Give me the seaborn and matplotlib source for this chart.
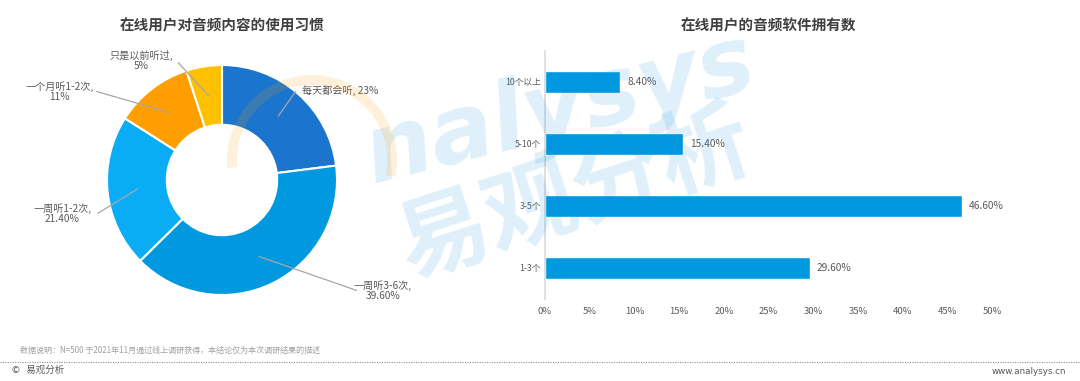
import matplotlib
matplotlib.use("Agg")
import matplotlib.pyplot as plt
from matplotlib.patches import Arc
import seaborn as sns
import pandas as pd
import numpy as np

# ---- data ----
pie_labels = ["每天都会听", "一周听3-6次", "一周听1-2次", "一个月听1-2次", "只是以前听过"]
pie_values = [23.0, 39.6, 21.4, 11.0, 5.0]
pie_value_text = ["23%", "39.60%", "21.40%", "11%", "5%"]
pie_colors = ["#1B75CF", "#0099DF", "#0AADF5", "#FF9E00", "#FFC000"]

bar_categories = ["10个以上", "5-10个", "3-5个", "1-3个"]
bar_values = [8.4, 15.4, 46.6, 29.6]
bar_ticks = [0, 5, 10, 15, 20, 25, 30, 35, 40, 45, 50]

title_left = "在线用户对音频内容的使用习惯"
title_right = "在线用户的音频软件拥有数"
note_text = "数据说明：N=500 于2021年11月通过线上调研获得，本结论仅为本次调研结果的描述"

sns.set_theme(style="white")
plt.rcParams['font.family'] = ['Noto Sans CJK SC', 'DejaVu Sans']

W, H = 1080, 381
fig = plt.figure(figsize=(W / 100, H / 100), dpi=100)
fig.patch.set_facecolor("white")

def fbox(left, top, right, bottom):
    return [left / W, (H - bottom) / H, (right - left) / W, (bottom - top) / H]

text_gray = "#595959"

# ---- donut ----
R = 115.0
axp = fig.add_axes(fbox(12, 30, 432, 330))
axp.pie(pie_values, colors=pie_colors, startangle=90, counterclock=False,
        radius=1.0, wedgeprops=dict(width=0.52, edgecolor="white", linewidth=1.5))
axp.set_xlim(-210 / R, 210 / R)
axp.set_ylim(-150 / R, 150 / R)
axp.set_aspect("auto")
axp.axis("off")

# label placement (text anchor, line end, alignment)
label_pos = [(0.70, 0.78), (1.40, -0.96), (-1.39, -0.29), (-1.41, 0.77), (-0.70, 1.04)]
line_end = [(0.64, 0.77), (1.17, -0.96), (-1.08, -0.29), (-1.09, 0.77), (-0.38, 1.02)]
label_ha = ["left", "center", "center", "center", "center"]
cum = np.cumsum([0] + pie_values)
for i, (lab, vt) in enumerate(zip(pie_labels, pie_value_text)):
    mid = (cum[i] + cum[i + 1]) / 2 / 100.0
    ang = np.deg2rad(90 - 360 * mid)
    r0 = 0.74
    x0, y0 = r0 * np.cos(ang), r0 * np.sin(ang)
    xe, ye = line_end[i]
    axp.plot([x0, xe], [y0, ye], color="#A6A6A6", lw=0.9)
    if i == 0:
        txt = f"{lab}, {vt}"
    else:
        txt = f"{lab},\n{vt}"
    axp.text(label_pos[i][0], label_pos[i][1], txt, ha=label_ha[i], va="center",
             fontsize=7.3, color=text_gray, linespacing=1.0)

fig.text(222 / W, 1 - 25 / H, title_left, ha="center", va="center",
         fontsize=10.5, fontweight="bold", color="#404040")

# ---- bar chart ----
axb = fig.add_axes(fbox(545, 51, 992, 299))
df = pd.DataFrame({"cat": bar_categories, "val": bar_values})
sns.barplot(data=df, x="val", y="cat", order=bar_categories, orient="h",
            color="#0098DF", saturation=1, width=0.37, ax=axb)
axb.set_xlim(0, 50)
axb.set_ylim(3.5, -0.5)
axb.set_xticks(bar_ticks)
axb.set_xticklabels([f"{t}%" for t in bar_ticks], fontsize=6.8, color=text_gray)
axb.tick_params(axis="y", labelsize=6.3, labelcolor=text_gray, length=0, pad=3)
axb.tick_params(axis="x", length=0, pad=6)
axb.set_xlabel("")
axb.set_ylabel("")
for s in ["top", "right", "bottom"]:
    axb.spines[s].set_visible(False)
axb.spines["left"].set_color("#D9D9D9")
axb.spines["left"].set_linewidth(1.2)
axb.patch.set_alpha(0)
for p, v in zip(axb.patches, bar_values):
    axb.text(p.get_width() + 0.8, p.get_y() + p.get_height() / 2, f"{v:.2f}%",
             ha="left", va="center", fontsize=7.3, color=text_gray)

fig.text(768 / W, 1 - 25 / H, title_right, ha="center", va="center",
         fontsize=10.5, fontweight="bold", color="#404040")

# ---- watermark ----
fig.text(560 / W, 1 - 110 / H, "nalysys", ha="center", va="center", fontsize=68,
         fontweight="bold", style="italic", color="#0A8FDD", alpha=0.13, rotation=14,
         family="DejaVu Sans", zorder=0)
fig.text(575 / W, 1 - 195 / H, "易观分析", ha="center", va="center", fontsize=66,
         fontweight="bold", color="#0A8FDD", alpha=0.13, rotation=18, zorder=0)
arc = Arc((312 / W, 1 - 160 / H), 160 / W, 160 / H, angle=0, theta1=-30, theta2=195,
          transform=fig.transFigure, color="#FF9E00", alpha=0.15, lw=7)
fig.add_artist(arc)

# ---- footer ----
fig.text(20 / W, 1 - 350 / H, note_text, ha="left", va="center", fontsize=5.8, color="#A0A0A0")
fig.add_artist(plt.Line2D([0, 1], [1 - 362 / H, 1 - 362 / H], transform=fig.transFigure,
                          color="#909090", lw=0.8, ls=(0, (1, 1.2))))
fig.text(12 / W, 1 - 370 / H, "©   易观分析", ha="left", va="center", fontsize=6.8, color="#595959")
fig.text(1066 / W, 1 - 371 / H, "www.analysys.cn", ha="right", va="center", fontsize=6.3,
         color="#595959", family="DejaVu Sans")

fig.savefig("out.png", dpi=100, facecolor="white")
